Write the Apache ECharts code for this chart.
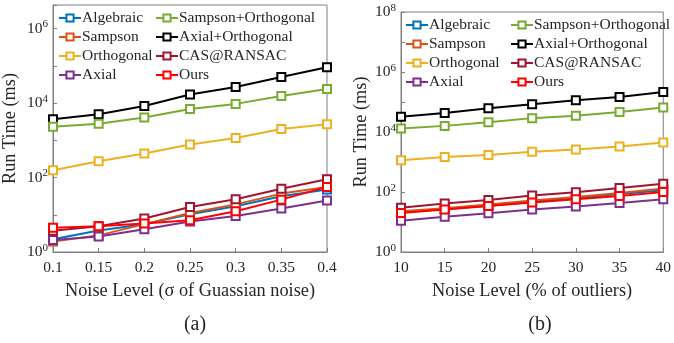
<!DOCTYPE html>
<html>
<head>
<meta charset="utf-8">
<script src="https://cdn.jsdelivr.net/npm/echarts@6/dist/echarts.min.js"></script>
<style>html,body{margin:0;padding:0;background:#fff;}#c{width:674px;height:343px;}</style>
</head>
<body>
<div id="c"></div>
<script>
// ---- Data ----
const names = ['Algebraic','Sampson','Orthogonal','Axial','Sampson+Orthogonal','Axial+Orthogonal','CAS@RANSAC','Ours'];
const colors = ['#0072BD','#D95319','#EDB120','#7E2F8E','#77AC30','#000000','#A2142F','#FF0000'];

// (a) Noise level (sigma of Gaussian noise)
const xA = [0.1, 0.15, 0.2, 0.25, 0.3, 0.35, 0.4];
const aAlgebraic = [2.2, 3.8, 5.6, 10.3, 17, 31.6, 48];
const aSampson = [1.9, 2.8, 5.6, 11.2, 19, 37, 56];
const aOrthogonal = [157, 275, 442, 776, 1160, 2000, 2700];
const aAxial = [2.1, 2.6, 4.1, 6.6, 9.3, 14.7, 24];
const aSampsonOrth = [2300, 2800, 4100, 6900, 9500, 15400, 24000];
const aAxialOrth = [3700, 5000, 8300, 17000, 27000, 50000, 91000];
const aCAS = [3.7, 4.9, 7.9, 16.2, 26, 50, 90];
const aOurs = [4.5, 4.9, 5.8, 7.1, 12.4, 25.5, 56];

// (b) Noise level (% of outliers)
const xB = [10, 15, 20, 25, 30, 35, 40];
const bAlgebraic = [21, 27, 35, 47, 62, 85, 115];
const bSampson = [23, 29, 38, 52, 68, 92, 130];
const bOrthogonal = [1140, 1480, 1700, 2200, 2600, 3300, 4500];
const bAxial = [11, 15, 19.5, 26, 33, 43, 57];
const bSampsonOrth = [13000, 16000, 21000, 29000, 35000, 46000, 65000];
const bAxialOrth = [32000, 43000, 62000, 84000, 114000, 148000, 215000];
const bCAS = [30, 41, 54, 76, 98, 135, 190];
const bOurs = [20, 26, 34, 45, 57, 74, 100];

const xTitleA = 'Noise Level (σ of Guassian noise)';
const xTitleB = 'Noise Level (% of outliers)';
const yTitle = 'Run Time (ms)';
const panelA = '(a)';
const panelB = '(b)';

// ---- Chart ----
const FONT = '"Liberation Serif", "Times New Roman", serif';
const TXT = '#262626';
const AX = '#7f7f7f';

const seriesA = [aAlgebraic, aSampson, aOrthogonal, aAxial, aSampsonOrth, aAxialOrth, aCAS, aOurs];
const seriesB = [bAlgebraic, bSampson, bOrthogonal, bAxial, bSampsonOrth, bAxialOrth, bCAS, bOurs];
const drawOrder = [5, 4, 2, 0, 1, 3, 6, 7];

function logFmt(v) {
  const l = Math.log10(v);
  const e = Math.round(l);
  if (Math.abs(l - e) > 1e-6 || e % 2 !== 0) return '';
  return '10{s|' + e + '}';
}

function xAxisCfg(idx, min, max, interval, name) {
  return {
    type: 'value', gridIndex: idx, min: min, max: max, interval: interval,
    name: name, nameLocation: 'middle', nameGap: 30,
    nameTextStyle: { fontFamily: FONT, fontSize: 18.3, color: TXT },
    axisLine: { show: true, lineStyle: { color: AX, width: 1 } },
    axisTick: { show: true, inside: true, length: 4, lineStyle: { color: AX } },
    axisLabel: { fontFamily: FONT, fontSize: 15.5, color: TXT, margin: 8,
      formatter: function (v) { return String(+v.toFixed(2)); } },
    splitLine: { show: false }
  };
}
function yAxisCfg(idx, max, gap) {
  return {
    type: 'log', logBase: 10, gridIndex: idx, min: 1, max: max,
    name: yTitle, nameLocation: 'middle', nameGap: gap,
    nameTextStyle: { fontFamily: FONT, fontSize: 18.3, color: TXT },
    axisLine: { show: true, lineStyle: { color: AX, width: 1 } },
    axisTick: { show: true, inside: true, length: 4, lineStyle: { color: AX } },
    axisLabel: { fontFamily: FONT, fontSize: 15.5, color: TXT, margin: 5,
      formatter: logFmt,
      rich: { s: { fontFamily: FONT, fontSize: 11, color: TXT, verticalAlign: 'top', padding: [0, 0, 8, 0] } } },
    splitLine: { show: false },
    minorTick: { show: false }
  };
}

const series = [];
[[seriesA, xA, 0], [seriesB, xB, 1]].forEach(function (p) {
  drawOrder.forEach(function (i) {
    series.push({
      name: names[i], type: 'line', xAxisIndex: p[2], yAxisIndex: p[2],
      data: p[1].map(function (x, k) { return [x, p[0][i][k]]; }),
      symbol: 'emptyRect', symbolSize: 8, showSymbol: true,
      lineStyle: { color: colors[i], width: 2 },
      itemStyle: { color: colors[i], borderWidth: 1.3 },
      emphasis: { disabled: true }, animation: false
    });
  });
});

function legendCfg(left, top, data) {
  return {
    orient: 'vertical', left: left, top: top, data: data,
    itemWidth: 22, itemHeight: 9, itemGap: 3, padding: 0,
    textStyle: { fontFamily: FONT, fontSize: 15.5, color: TXT, padding: [0, 0, 0, -4], lineHeight: 16 },
    selectedMode: false
  };
}

const option = {
  backgroundColor: '#fff',
  animation: false,
  grid: [
    { left: 52, right: 347, top: 5, bottom: 91, show: true, borderColor: AX, borderWidth: 1, backgroundColor: 'transparent' },
    { left: 401, right: 7, top: 12, bottom: 91, show: true, borderColor: AX, borderWidth: 1, backgroundColor: 'transparent' }
  ],
  xAxis: [xAxisCfg(0, 0.1, 0.4, 0.05, xTitleA), xAxisCfg(1, 10, 40, 5, xTitleB)],
  yAxis: [yAxisCfg(0, 4.3e6, 34), yAxisCfg(1, 1e8, 31)],
  legend: [
    legendCfg(58, 10, names.slice(0, 4)),
    legendCfg(155, 10, names.slice(4, 8)),
    legendCfg(405, 17, names.slice(0, 4)),
    legendCfg(510, 17, names.slice(4, 8))
  ],
  title: [
    { text: panelA, left: 190, top: 310, textAlign: 'center', textStyle: { fontFamily: FONT, fontSize: 20, fontWeight: 'normal', color: TXT } },
    { text: panelB, left: 535, top: 310, textAlign: 'center', textStyle: { fontFamily: FONT, fontSize: 20, fontWeight: 'normal', color: TXT } }
  ],
  series: series
};

const chart = echarts.init(document.getElementById('c'), null, { renderer: 'canvas' });
chart.setOption(option);
</script>
</body>
</html>
